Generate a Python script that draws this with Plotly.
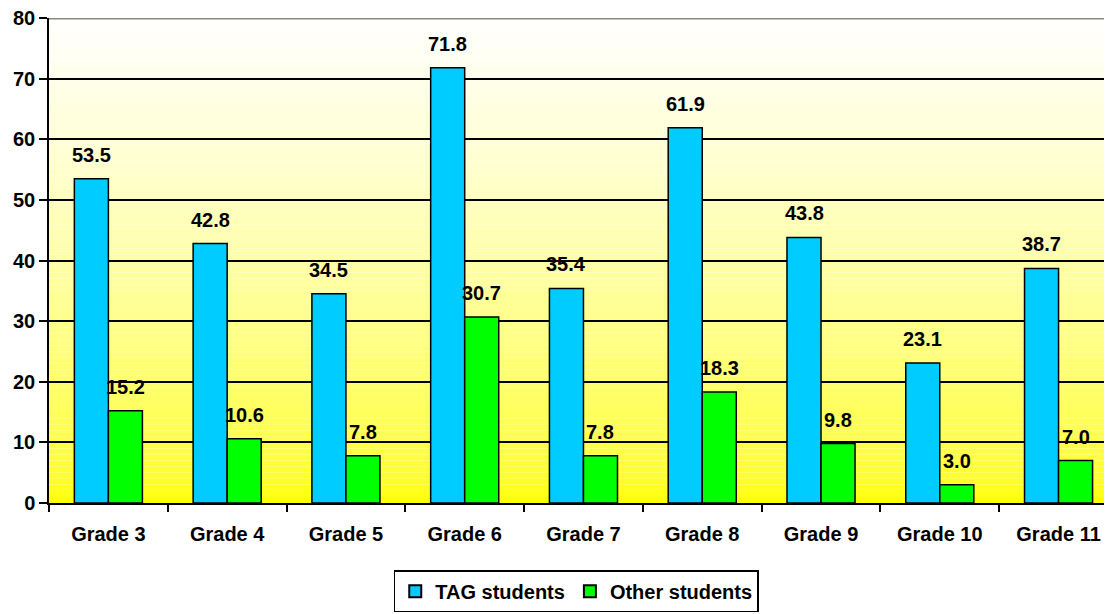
import plotly.graph_objects as go

categories = ["Grade 3", "Grade 4", "Grade 5", "Grade 6", "Grade 7", "Grade 8", "Grade 9", "Grade 10", "Grade 11"]
tag_values = [53.5, 42.8, 34.5, 71.8, 35.4, 61.9, 43.8, 23.1, 38.7]
other_values = [15.2, 10.6, 7.8, 30.7, 7.8, 18.3, 9.8, 3.0, 7.0]
series_names = ["TAG students", "Other students"]
y_ticks = [0, 10, 20, 30, 40, 50, 60, 70, 80]

FONT = "Liberation Sans, Arial, sans-serif"
fig = go.Figure()
fig.add_trace(go.Bar(x=categories, y=tag_values, name=series_names[0],
                     marker=dict(color="#00CCFF", line=dict(color="black", width=1.5))))
fig.add_trace(go.Bar(x=categories, y=other_values, name=series_names[1],
                     marker=dict(color="#00FF00", line=dict(color="black", width=1.5))))

# value labels
for vals, shift in ((tag_values, -17), (other_values, 17)):
    for c, v in zip(categories, vals):
        fig.add_annotation(x=c, y=v, text="<b>%.1f</b>" % v, showarrow=False,
                           xshift=shift, yshift=24, yanchor="middle",
                           font=dict(family=FONT, size=20, color="black"))

# gradient background
N = 80
for i in range(N):
    frac = (i + 0.5) / N
    b = int(round(255 * frac ** 0.6))
    fig.add_shape(type="rect", xref="paper", yref="y", x0=0, x1=1,
                  y0=80 * i / N, y1=80 * (i + 1) / N, layer="below",
                  line=dict(width=0), fillcolor="rgb(255,255,%d)" % b)
fig.add_shape(type="line", xref="paper", yref="y", x0=0, x1=1, y0=80, y1=80,
              line=dict(color="#888888", width=3))

fig.update_layout(
    width=1104, height=606,
    margin=dict(l=41, r=0, t=10, b=111, autoexpand=False),
    paper_bgcolor="white", plot_bgcolor="white",
    barmode="group", bargap=0.427, bargroupgap=0,
    font=dict(family=FONT, size=20, color="black"),
    showlegend=True,
    legend=dict(orientation="h", xanchor="center", x=0.496, yref="container",
                yanchor="bottom", y=0.003,
                bordercolor="black", borderwidth=1.5, bgcolor="white",
                font=dict(family=FONT, size=20, color="black", weight="bold"),
                itemsizing="constant", tracegroupgap=0, itemwidth=30),
    xaxis=dict(range=[-0.5, 8.45], showline=True, linecolor="black", linewidth=1.5,
               automargin=False, ticklabeloverflow="allow",
               ticks="outside", tickson="boundaries", ticklen=7, tickcolor="black", tickwidth=1.5,
               tickfont=dict(family=FONT, size=20, color="black", weight="bold"),
               ticklabelstandoff=12, showgrid=False),
    yaxis=dict(range=[0, 80], tickvals=y_ticks, showline=True, linecolor="black", linewidth=1.5,
               automargin=False, ticklabeloverflow="allow",
               ticks="outside", ticklen=8, tickcolor="black", tickwidth=1.5,
               tickfont=dict(family=FONT, size=20, color="black", weight="bold"),
               showgrid=True, gridcolor="black", gridwidth=1.5, zeroline=False),
)

fig.write_html("out.html")
